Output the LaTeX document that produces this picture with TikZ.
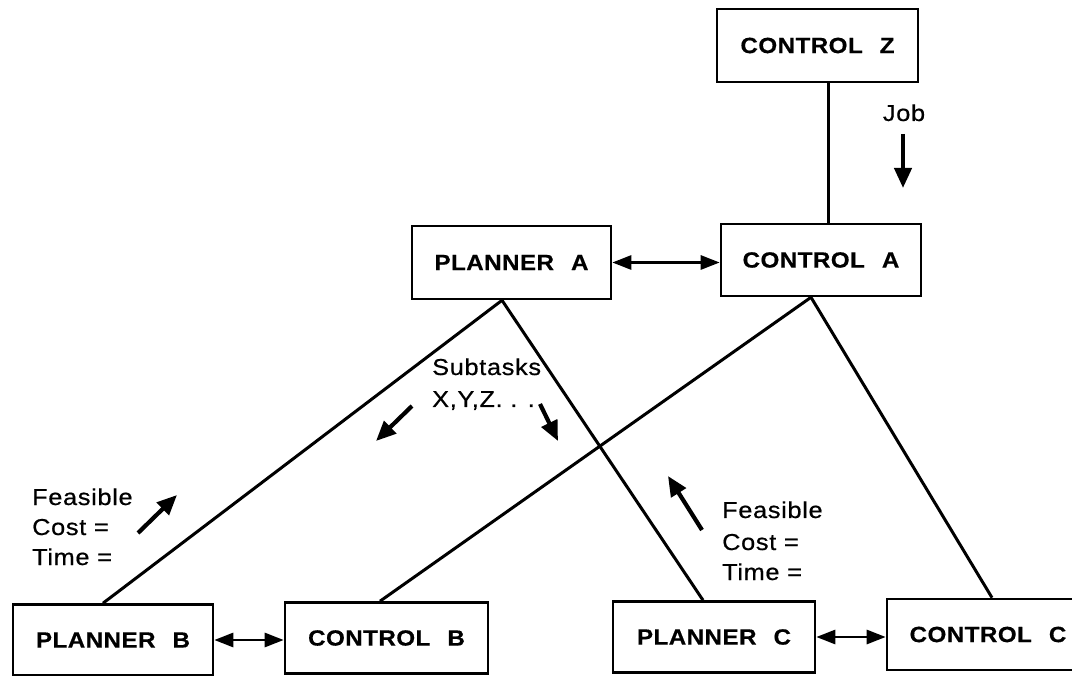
\documentclass[tikz,border=0pt]{standalone}
\usepackage{fontspec}
\newfontfamily\boxfnt[FakeStretch=1.1,LetterSpace=2,FakeBold=0.5]{Liberation Sans}
\newfontfamily\txtfnt[FakeStretch=1.1,LetterSpace=3,FakeBold=0.6]{Liberation Sans}
\usetikzlibrary{arrows.meta}
\tikzset{
  box/.style={draw, line width=2.6pt, minimum width=#1, minimum height=71pt, inner sep=0pt,
    font=\boxfnt\bfseries\fontsize{22}{26}\selectfont},
  lbl/.style={inner sep=0pt, anchor=base west, font=\txtfnt\fontsize{23}{27}\selectfont},
  link/.style={line width=3pt},
  dbl/.style={line width=2.8pt, {Triangle[length=19pt,width=14pt]}-{Triangle[length=19pt,width=14pt]}},
  flow/.style={line width=4.2pt, -{Triangle[length=20pt,width=17pt]}}
}
\newcommand{\gapA}{\hspace{17pt}}
\begin{document}
\begin{tikzpicture}[x=1pt,y=-1pt]
\useasboundingbox (0,0) rectangle (1072,676);
\fill[white] (0,0) rectangle (1072,676);
\clip (0,0) rectangle (1072,676);

% boxes
\node[box=201pt, minimum height=73pt] (cz) at (817.5,45.5) {CONTROL\gapA Z};
\node[box=199pt, minimum height=73pt] (pa) at (511.5,262.5) {PLANNER\gapA A};
\node[box=200pt, minimum height=72pt] (ca) at (821,260) {CONTROL\gapA A};
\node[box=200pt] (pb) at (113,640) {PLANNER\gapA B};
\node[box=203pt] (cb) at (386.5,638) {CONTROL\gapA B};
\node[box=202pt] (pc) at (714,637) {PLANNER\gapA C};
\node[box=202pt] (cc) at (988,634.5) {CONTROL\gapA C};

% connectors
\draw[link] ([xshift=10.5pt]cz.south) -- ([xshift=10.5pt]cz.south |- ca.north);
\draw[dbl] (pa.east) -- (pa.east -| ca.west);
\draw[dbl] (pb.east) -- (pb.east -| cb.west);
\draw[dbl] (pc.east) -- (pc.east -| cc.west);
\draw[link] ([xshift=-9.5pt]pa.south) -- ([xshift=-10pt]pb.north);
\draw[link] ([xshift=-9.5pt]pa.south) -- ([xshift=-11pt]pc.north);
\draw[link] ([xshift=-10pt]ca.south) -- ([xshift=-6.5pt]cb.north);
\draw[link] ([xshift=-10pt]ca.south) -- ([xshift=4pt]cc.north);

% labels
\node[lbl, anchor=base] (job) at (904,121) {Job};
\coordinate (j1) at (903,134);
\coordinate (j2) at (903,188);
\draw[flow] (j1) -- (j2);

\node[lbl] (sub1) at (432,375) {Subtasks};
\node[lbl] (sub2) at (432,407) {X,Y,Z. . .};
\coordinate (s1a) at (412,406);
\coordinate (s1b) at (376,441);
\draw[flow] (s1a) -- (s1b);
\coordinate (s2a) at (540,404);
\coordinate (s2b) at (558,441);
\draw[flow] (s2a) -- (s2b);

\node[lbl] (fl1) at (32,505) {Feasible};
\node[lbl] (fl2) at (32,535) {Cost =};
\node[lbl] (fl3) at (32,565) {Time =};
\coordinate (f1a) at (138,533);
\coordinate (f1b) at (177,495);
\draw[flow] (f1a) -- (f1b);

\node[lbl] (fr1) at (722,518) {Feasible};
\node[lbl] (fr2) at (722,550) {Cost =};
\node[lbl] (fr3) at (722,580) {Time =};
\coordinate (f2a) at (702,530);
\coordinate (f2b) at (668,476);
\draw[flow] (f2a) -- (f2b);
\end{tikzpicture}
\end{document}
